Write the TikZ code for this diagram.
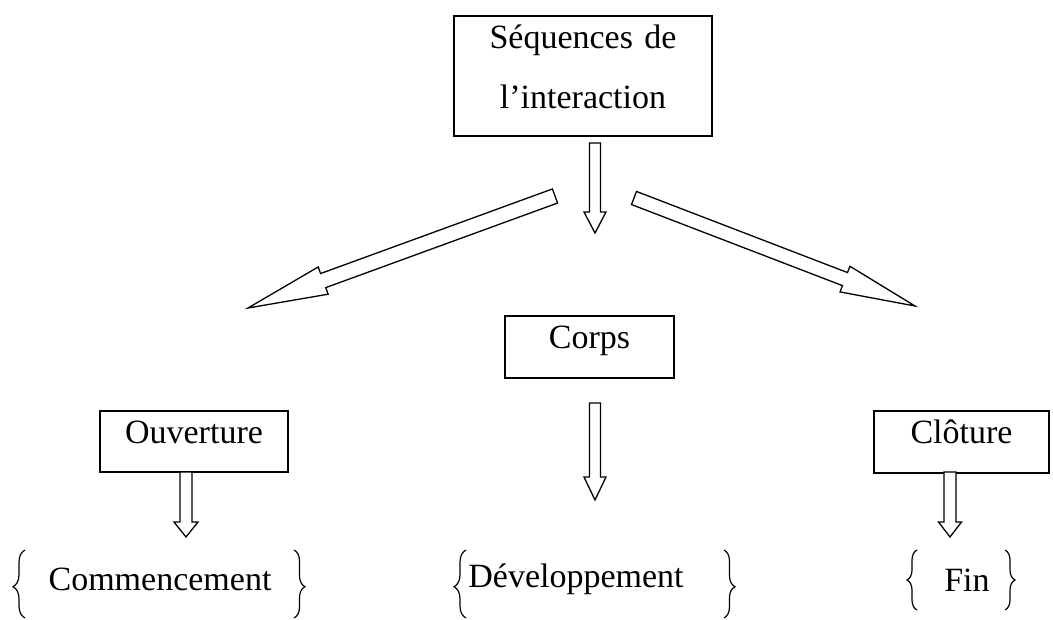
\documentclass[tikz,border=0pt]{standalone}
\usepackage{fontspec}
\setmainfont{Liberation Serif}
\usetikzlibrary{calc,decorations.pathreplacing}
\tikzset{
  box/.style={draw, line width=1.8pt, inner sep=0pt, font=\fontsize{34}{60}\selectfont},
  lbl/.style={inner sep=0pt, anchor=base, font=\fontsize{34}{40}\selectfont},
  blk/.style={draw, line width=1.3pt, line join=miter, fill=white},
  brc/.style 2 args={decorate, decoration={brace, amplitude=#1, aspect=#2}, line width=1.2pt},
}
\newcommand\blkarrow[5]{%
  \draw[blk] let \p1=(#1), \p2=(#2),
    \n1={atan2(\y2-\y1,\x2-\x1)}, \n2={veclen(\x2-\x1,\y2-\y1)-#5},
    \n3={\n1+90}, \n4={\n1-90} in
    ($(\p1)+(\n3:#3)$) -- ($(\p1)+(\n1:\n2)+(\n3:#3)$) -- ($(\p1)+(\n1:\n2)+(\n3:#4)$) -- (\p2)
    -- ($(\p1)+(\n1:\n2)+(\n4:#4)$) -- ($(\p1)+(\n1:\n2)+(\n4:#3)$) -- ($(\p1)+(\n4:#3)$) -- cycle;}
\begin{document}
\begin{tikzpicture}[x=1pt,y=-1pt]
\useasboundingbox (0,0) rectangle (1053,619);
% boxes
\node[box, anchor=north, text width=258pt, align=center, text height=33pt, text depth=87pt] (seq) at (583,15) {Séquences de\\l’interaction};
\node[box, anchor=north, minimum width=169pt, text height=33pt, text depth=29pt] (corps) at (589.5,315) {Corps};
\node[box, anchor=north, minimum width=188pt, text height=33pt, text depth=28pt] (ouv) at (194,410) {Ouverture};
\node[box, anchor=north, minimum width=175pt, text height=33pt, text depth=29pt] (clo) at (961.5,410) {Clôture};
% texts
\node[lbl] (com) at (160,590) {Commencement};
\node[lbl] (dev) at (576,587) {Développement};
\node[lbl] (fin) at (967,591) {Fin};
% arrow ends
\coordinate (a0s) at (595,143);   \coordinate (a0e) at (595,233);
\coordinate (als) at (555,196);   \coordinate (ale) at (248,308);
\coordinate (ars) at (634,198);   \coordinate (are) at (915,306);
\coordinate (acs) at (595,403);   \coordinate (ace) at (595,500);
\coordinate (aos) at (186,472);   \coordinate (aoe) at (186,537);
\coordinate (aks) at (950,472);   \coordinate (ake) at (950,537);
\blkarrow{a0s}{a0e}{5.5pt}{11pt}{21}
\blkarrow{als}{ale}{7.5pt}{14.5pt}{80}
\blkarrow{ars}{are}{7pt}{13.75pt}{75}
\blkarrow{acs}{ace}{5.5pt}{11pt}{23}
\blkarrow{aos}{aoe}{6pt}{12pt}{15}
\blkarrow{aks}{ake}{6pt}{11.5pt}{15}
% braces
\draw[brc={12pt}{0.46}] (25,618) -- (25,550);
\draw[brc={11pt}{0.54}] (294,550) -- (294,618);
\draw[brc={12pt}{0.46}] (466,618) -- (466,550);
\draw[brc={11pt}{0.54}] (724,550) -- (724,618);
\draw[brc={10pt}{0.5}] (917,610) -- (917,550);
\draw[brc={10pt}{0.5}] (1005,550) -- (1005,610);
\end{tikzpicture}
\end{document}
